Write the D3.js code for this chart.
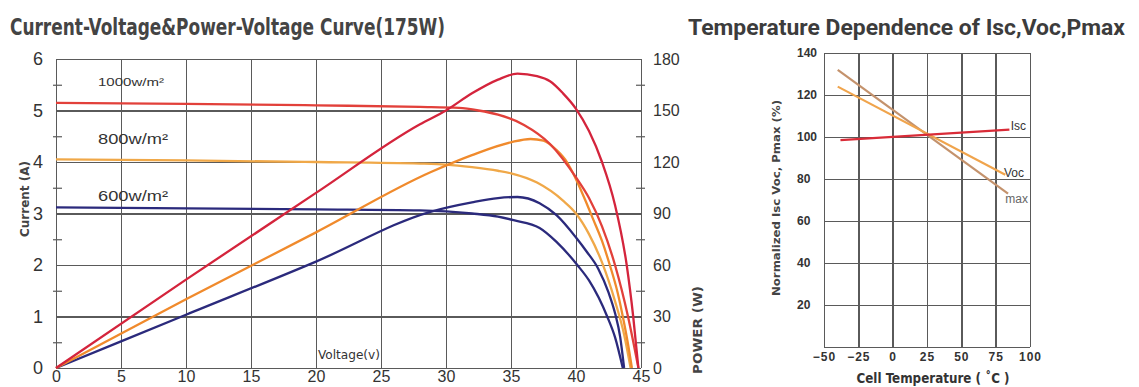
<!DOCTYPE html>
<html lang="en">
<head>
    <meta charset="UTF-8">
    <title>Solar module curves</title>
    <script type="text/javascript" src="https://cdn.jsdelivr.net/npm/d3@7/dist/d3.min.js"></script>
    <style>
        body { margin: 0; background: #fff; }
        .grid line { stroke: #5a5a5a; stroke-width: 1.4; shape-rendering: crispEdges; }
        .grid path { display: none; }
        .lbl path, .lbl line { display: none; }
        .lbl text { font-family: "Liberation Sans", Arial, sans-serif; fill: #333; }
        .minor line { stroke: #5a5a5a; stroke-width: 1.2; }
        .minor path { display: none; }
        .curve { fill: none; stroke-width: 2.3; }
    </style>
</head>
<body>
<script type="text/javascript">
    let width = 1139;
    let height = 387;

    // left chart ticks
    let voltTicks = [0, 5, 10, 15, 20, 25, 30, 35, 40, 45];
    let currentTicks = [0, 1, 2, 3, 4, 5, 6];
    let powerTicks = [0, 30, 60, 90, 120, 150, 180];

    // I-V curves (A)
    let iv1000V = [0, 10, 20, 28, 31, 32.5, 34, 36, 38, 40, 41, 42, 43, 44, 44.8];
    let iv1000I = [5.15, 5.13, 5.1, 5.07, 5.05, 5.0, 4.92, 4.72, 4.35, 3.7, 3.3, 2.75, 2.0, 1.0, 0];
    let iv800V = [0, 10, 20, 28, 30, 32, 34, 35, 37, 39, 40, 41, 42, 43, 43.7, 44.2];
    let iv800I = [4.05, 4.03, 4.0, 3.97, 3.95, 3.9, 3.83, 3.78, 3.6, 3.25, 3.0, 2.6, 2.05, 1.3, 0.65, 0];
    let iv600V = [0, 10, 20, 28, 30, 32, 34, 35.2, 37.2, 38.5, 40.1, 41, 42.4, 43, 43.6];
    let iv600I = [3.12, 3.1, 3.08, 3.06, 3.04, 3.0, 2.94, 2.87, 2.72, 2.45, 2.0, 1.7, 1.0, 0.6, 0];

    // P-V curves (W)
    let pv1000V = [0, 10, 20, 28, 30, 32, 34, 35.5, 37, 38, 39, 40, 41, 42, 43, 43.9, 44.4, 44.8];
    let pv1000P = [0, 51.5, 102, 142, 150, 160, 168, 171.5, 170, 167, 160, 151, 138, 120, 95, 60, 30, 0];
    let pv800V = [0, 10, 20, 28.8, 32, 35, 36.5, 37.5, 38.5, 39.3, 40, 40.7, 41.3, 42, 42.6, 43.2, 43.6, 44, 44.3];
    let pv800P = [0, 40, 79, 114, 124, 131.5, 133.4, 132.5, 127, 120, 110, 98, 87, 74, 60, 44, 30, 14, 0];
    let pv600V = [0, 10, 20, 28.8, 32, 34, 35.5, 37.2, 38.5, 40, 40.8, 41.7, 42.5, 43, 43.4, 43.7];
    let pv600P = [0, 31, 62, 91, 96.5, 99, 99.6, 96, 89, 76, 68, 58, 44, 32, 18, 0];

    // right chart
    let tempTicks = [-50, -25, 0, 25, 50, 75, 100];
    let normTicks = [20, 40, 60, 80, 100, 120, 140];
    let tempIsc = [[-38, 98.5], [85, 103.5]];
    let tempVoc = [[-40, 124], [82, 82]];
    let tempPmax = [[-40, 132], [84, 73]];

    let svg = d3.select('body')
        .append('svg')
        .attr('width', width)
        .attr('height', height);

    let narrow = '"Liberation Sans Narrow", "DejaVu Sans Condensed", sans-serif';

    // ---------- left chart ----------
    let x = d3.scaleLinear().domain([0, 45]).range([56, 641]);
    let yI = d3.scaleLinear().domain([0, 6]).range([368, 59]);
    let yP = d3.scaleLinear().domain([0, 180]).range([368, 59]);

    svg.append('text')
        .attr('x', 10).attr('y', 35)
        .attr('textLength', 435).attr('lengthAdjust', 'spacingAndGlyphs')
        .style('font-family', narrow)
        .style('font-weight', 'bold').style('font-size', '23px').style('fill', '#444')
        .text('Current-Voltage&Power-Voltage Curve(175W)');

    svg.append('g').attr('class', 'grid')
        .attr('transform', 'translate(0,368)')
        .call(d3.axisBottom(x).tickValues(voltTicks).tickSize(-309).tickFormat(''));
    svg.append('g').attr('class', 'grid')
        .attr('transform', 'translate(56,0)')
        .call(d3.axisLeft(yI).tickValues(currentTicks).tickSize(-585).tickFormat(''));

    svg.append('g').attr('class', 'minor')
        .attr('transform', 'translate(53,0)')
        .call(d3.axisLeft(yI).tickValues([0.5, 1.5, 2.5, 3.5, 4.5, 5.5]).tickSize(-9).tickFormat(''));
    svg.append('g').attr('class', 'minor')
        .attr('transform', 'translate(636,0)')
        .call(d3.axisRight(yP).tickValues([15, 45, 75, 105, 135, 165]).tickSize(9).tickFormat(''));

    let leftLbl = svg.append('g').attr('class', 'lbl')
        .attr('transform', 'translate(56,0)')
        .call(d3.axisLeft(yI).tickValues(currentTicks).tickSize(0).tickPadding(13).tickFormat(d3.format('d')));
    leftLbl.selectAll('text').style('font-size', '18px');

    let rightLbl = svg.append('g').attr('class', 'lbl')
        .attr('transform', 'translate(641,0)')
        .call(d3.axisRight(yP).tickValues(powerTicks).tickSize(0).tickPadding(12));
    rightLbl.selectAll('text').style('font-size', '16px');

    let botLbl = svg.append('g').attr('class', 'lbl')
        .attr('transform', 'translate(0,369)')
        .call(d3.axisBottom(x).tickValues(voltTicks).tickSize(0).tickPadding(2));
    botLbl.selectAll('text').style('font-size', '16px');

    svg.append('text')
        .attr('transform', 'translate(29,199) rotate(-90)')
        .attr('text-anchor', 'middle')
        .attr('textLength', 76).attr('lengthAdjust', 'spacingAndGlyphs')
        .style('font-family', narrow)
        .style('font-weight', 'bold').style('font-size', '12px').style('fill', '#444')
        .text('Current (A)');
    svg.append('text')
        .attr('transform', 'translate(702,330) rotate(-90)')
        .attr('text-anchor', 'middle')
        .attr('textLength', 88).attr('lengthAdjust', 'spacingAndGlyphs')
        .style('font-family', narrow)
        .style('font-weight', 'bold').style('font-size', '13px').style('fill', '#444')
        .text('POWER (W)');
    svg.append('text')
        .attr('x', 318).attr('y', 359)
        .attr('textLength', 62).attr('lengthAdjust', 'spacingAndGlyphs')
        .style('font-family', narrow)
        .style('font-size', '12px').style('fill', '#333')
        .text('Voltage(v)');

    let irrLabels = [
        { t: '1000w/m\u00b2', v: 5.55, s: 11 },
        { t: '800w/m\u00b2', v: 4.45, s: 15 },
        { t: '600w/m\u00b2', v: 3.35, s: 15 }
    ];
    svg.selectAll('.irr')
        .data(irrLabels)
        .enter()
        .append('text')
        .attr('class', 'irr')
        .attr('x', 98)
        .attr('y', function (d) { return yI(d.v); })
        .attr('dy', '0.35em')
        .attr('textLength', function (d) { return d.s > 12 ? 70 : 66; })
        .attr('lengthAdjust', 'spacingAndGlyphs')
        .style('font-family', '"Liberation Sans", sans-serif')
        .style('font-size', function (d) { return d.s + 'px'; })
        .style('fill', '#333')
        .text(function (d) { return d.t; });

    function zip(a, b) {
        return a.map(function (v, i) { return [v, b[i]]; });
    }
    let ivLine = d3.line().x(function (d) { return x(d[0]); }).y(function (d) { return yI(d[1]); }).curve(d3.curveMonotoneX);
    let pvLine = d3.line().x(function (d) { return x(d[0]); }).y(function (d) { return yP(d[1]); }).curve(d3.curveMonotoneX);

    let curves = [
        { pts: zip(pv600V, pv600P), line: pvLine, c: '#2b2a7c' },
        { pts: zip(iv600V, iv600I), line: ivLine, c: '#2b2a7c' },
        { pts: zip(iv800V, iv800I), line: ivLine, c: '#f0a848' },
        { pts: zip(pv800V, pv800P), line: pvLine, c: '#f08a2c' },
        { pts: zip(iv1000V, iv1000I), line: ivLine, c: '#e2403a' },
        { pts: zip(pv1000V, pv1000P), line: pvLine, c: '#d4243c' }
    ];
    svg.selectAll('.curve')
        .data(curves)
        .enter()
        .append('path')
        .attr('class', 'curve')
        .attr('d', function (d) { return d.line(d.pts); })
        .attr('stroke', function (d) { return d.c; });

    // ---------- right chart ----------
    let xT = d3.scaleLinear().domain([-50, 100]).range([824, 1030]);
    let yN = d3.scaleLinear().domain([0, 140]).range([347, 53]);

    svg.append('text')
        .attr('x', 688).attr('y', 35)
        .attr('textLength', 437).attr('lengthAdjust', 'spacingAndGlyphs')
        .style('font-family', 'Roboto, "Liberation Sans", sans-serif')
        .style('font-weight', 'bold').style('font-size', '22px').style('fill', '#3c3c3c')
        .text('Temperature Dependence of Isc,Voc,Pmax');

    svg.append('g').attr('class', 'grid')
        .attr('transform', 'translate(0,347)')
        .call(d3.axisBottom(xT).tickValues(tempTicks).tickSize(-294).tickFormat(''));
    svg.append('g').attr('class', 'grid')
        .attr('transform', 'translate(824,0)')
        .call(d3.axisLeft(yN).tickValues([0].concat(normTicks)).tickSize(-206).tickFormat(''));

    let tl = svg.append('g').attr('class', 'lbl')
        .attr('transform', 'translate(0,350)')
        .call(d3.axisBottom(xT).tickValues(tempTicks).tickSize(0).tickPadding(2)
            .tickFormat(function (d) { return d < 0 ? '\u2212' + Math.abs(d) : d; }));
    tl.selectAll('text').style('font-size', '12px').style('font-weight', 'bold').style('letter-spacing', '1px');

    let nl = svg.append('g').attr('class', 'lbl')
        .attr('transform', 'translate(797,0)')
        .call(d3.axisRight(yN).tickValues(normTicks).tickSize(0).tickPadding(0));
    nl.selectAll('text').style('font-size', '12px').style('font-weight', 'bold');

    svg.append('text')
        .attr('x', 933).attr('y', 383)
        .attr('text-anchor', 'middle')
        .attr('textLength', 153).attr('lengthAdjust', 'spacingAndGlyphs')
        .style('font-family', narrow)
        .style('font-weight', 'bold').style('font-size', '14px').style('fill', '#333')
        .text('Cell Temperature ( \u02daC )');
    svg.append('text')
        .attr('transform', 'translate(780,198) rotate(-90)')
        .attr('text-anchor', 'middle')
        .attr('textLength', 196).attr('lengthAdjust', 'spacingAndGlyphs')
        .style('font-family', narrow)
        .style('font-weight', 'bold').style('font-size', '10px').style('fill', '#444')
        .text('Normalized Isc Voc, Pmax (%)');

    let tLine = d3.line().x(function (d) { return xT(d[0]); }).y(function (d) { return yN(d[1]); });
    let tempLines = [
        { pts: tempPmax, c: '#c4926c' },
        { pts: tempVoc, c: '#f0a44c' },
        { pts: tempIsc, c: '#d92c38' }
    ];
    svg.selectAll('.tline')
        .data(tempLines)
        .enter()
        .append('path')
        .attr('class', 'tline')
        .attr('d', function (d) { return tLine(d.pts); })
        .attr('fill', 'none')
        .attr('stroke-width', 2.2)
        .attr('stroke', function (d) { return d.c; });

    let tempNames = [
        { t: 'Isc', x: 86, v: 103.5, c: '#333' },
        { t: 'Voc', x: 81, v: 81, c: '#333' },
        { t: 'max', x: 82, v: 68.5, c: '#666' }
    ];
    svg.selectAll('.tname')
        .data(tempNames)
        .enter()
        .append('text')
        .attr('class', 'tname')
        .attr('x', function (d) { return xT(d.x); })
        .attr('y', function (d) { return yN(d.v); })
        .style('font-family', '"Liberation Sans", sans-serif')
        .style('font-size', '12px')
        .style('fill', function (d) { return d.c; })
        .text(function (d) { return d.t; });
</script>
</body>
</html>
